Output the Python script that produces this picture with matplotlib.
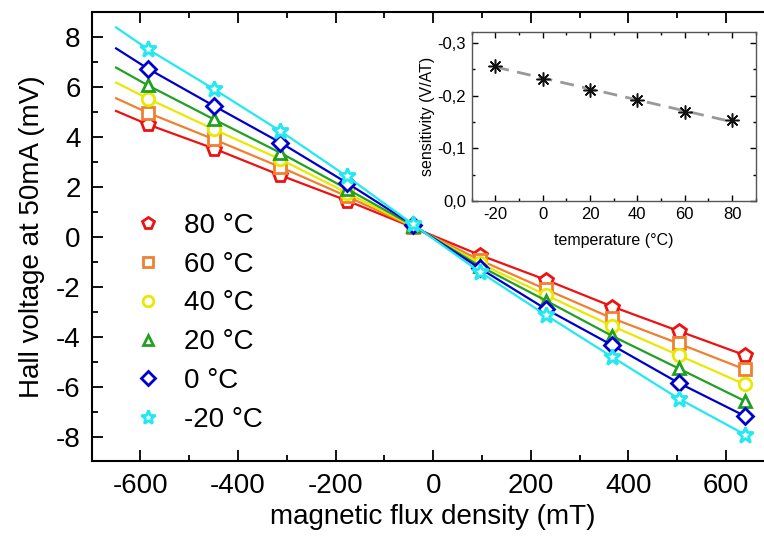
import numpy as np
import matplotlib
matplotlib.use('Agg')
import matplotlib.pyplot as plt
from matplotlib.ticker import MultipleLocator, FuncFormatter

plt.rcParams['font.family'] = ['Liberation Sans', 'DejaVu Sans']
plt.rcParams['axes.unicode_minus'] = False

# field values (mT)
B = [-585, -449, -313, -177, -41, 95, 231, 367, 503, 639]

# hall voltage (mV) per temperature
v80 = [4.51, 3.54, 2.47, 1.46, 0.38, -0.72, -1.72, -2.79, -3.77, -4.74]
v60 = [4.98, 3.91, 2.80, 1.63, 0.40, -0.92, -2.10, -3.26, -4.27, -5.31]
v40 = [5.55, 4.31, 3.11, 1.77, 0.42, -1.05, -2.33, -3.57, -4.74, -5.91]
v20 = [6.08, 4.71, 3.37, 1.93, 0.45, -1.16, -2.55, -3.97, -5.27, -6.58]
v0 = [6.75, 5.25, 3.78, 2.17, 0.48, -1.25, -2.89, -4.34, -5.85, -7.18]
vm20 = [7.53, 5.92, 4.24, 2.43, 0.50, -1.39, -3.13, -4.81, -6.48, -7.92]

# where the fit lines start on the left
B_start = -650
v_start = [5.05, 5.56, 6.19, 6.79, 7.56, 8.40]

labels = ['80 °C', '60 °C', '40 °C', '20 °C', '0 °C', '-20 °C']
colors = ['#ee1111', '#f08030', '#e8e800', '#22a022', '#0000cc', '#22e8f0']
markers = ['p', 's', 'o', '^', 'D', '*']

# inset: sensitivity vs temperature
temps = [-20, 0, 20, 40, 60, 80]
sens = [-0.257, -0.232, -0.211, -0.191, -0.168, -0.154]

fig = plt.figure(figsize=(7.64, 5.41), dpi=100)
ax = fig.add_axes([0.120, 0.147, 0.894, 0.830])

series = [v80, v60, v40, v20, v0, vm20]
sizes = {'p': 10, 's': 8.5, 'o': 9, '^': 9, 'D': 8, '*': 12}
handles = []
for i in range(5, -1, -1):
    xs = [B_start] + B
    ys = [v_start[i]] + series[i]
    ax.plot(xs, ys, '-', color=colors[i], lw=1.6, zorder=2 + i)
    ax.plot(B, series[i], linestyle='none', marker=markers[i], ms=sizes[markers[i]],
            mfc='white', mec=colors[i], mew=2, zorder=2 + i)

for i in range(6):
    h, = ax.plot([], [], linestyle='none', marker=markers[i],
                 ms=sizes[markers[i]] * 0.85, mfc='white', mec=colors[i], mew=2,
                 label=labels[i])
    handles.append(h)

ax.set_xlim(-700, 700)
ax.set_ylim(-9, 9)
ax.xaxis.set_major_locator(MultipleLocator(200))
ax.xaxis.set_minor_locator(MultipleLocator(100))
ax.yaxis.set_major_locator(MultipleLocator(2))
ax.yaxis.set_minor_locator(MultipleLocator(1))
ax.tick_params(which='both', direction='in', top=True, right=True, width=1.3)
ax.tick_params(which='major', length=8, labelsize=20, pad=8)
ax.tick_params(which='minor', length=4)
for s in ax.spines.values():
    s.set_linewidth(1.5)
ax.set_xlabel('magnetic flux density (mT)', fontsize=20, labelpad=4)
ax.set_ylabel('Hall voltage at 50mA (mV)', fontsize=20, labelpad=8)

ax.legend(handles=handles, loc='upper left', bbox_to_anchor=(120 / 764, 1 - 199 / 541),
          bbox_transform=fig.transFigure, frameon=False, fontsize=20,
          handlelength=1.0, handletextpad=0.8, labelspacing=0.46, borderpad=0)

# inset
ins = fig.add_axes([0.6174, 0.6285, 0.3717, 0.3118])
fit = np.polyfit(temps, sens, 1)
ins.plot(temps, np.polyval(fit, temps), '--', color='#999999', lw=2, dashes=(5, 3))
ins.plot(temps, sens, linestyle='none', marker=(8, 2, 0), ms=10, color='#111111', mew=1.1)
ins.set_xlim(-30, 90)
ins.set_ylim(0, -0.32)
ins.xaxis.set_major_locator(MultipleLocator(20))
ins.xaxis.set_minor_locator(MultipleLocator(10))
ins.yaxis.set_major_locator(MultipleLocator(0.1))
ins.yaxis.set_minor_locator(MultipleLocator(0.05))
ins.yaxis.set_major_formatter(FuncFormatter(lambda v, p: ('%.1f' % v).replace('.', ',')))
ins.tick_params(which='both', direction='in', top=True, right=True, width=1)
ins.tick_params(which='major', length=4, labelsize=12, pad=4)
ins.tick_params(which='minor', length=2)
for s in ins.spines.values():
    s.set_linewidth(1.0)
    s.set_color('#555555')
ins.set_xlabel('temperature (°C)', fontsize=11.5, labelpad=8)
ins.set_ylabel('sensitivity (V/AT)', fontsize=11.5, labelpad=2)

fig.savefig('out.png', dpi=100)
